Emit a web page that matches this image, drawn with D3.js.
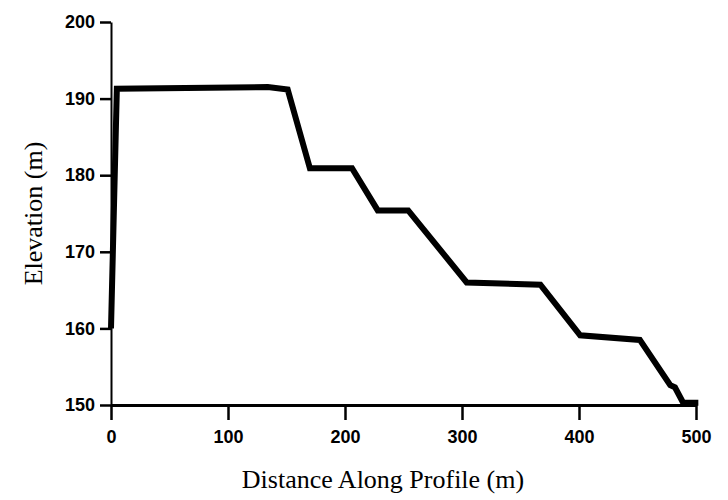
<!DOCTYPE html>
<html>
<head>
<meta charset="utf-8">
<script src="https://cdn.jsdelivr.net/npm/d3@7"></script>
<style>
  body { margin: 0; background: #fff; }
  .tick text { font-family: "Liberation Sans", sans-serif; font-size: 18px; font-weight: bold; fill: #000; }
  .title { font-family: "Liberation Serif", serif; font-size: 26px; fill: #000; }
</style>
</head>
<body>
<script>
// profile: distance (m) and elevation (m)
const distance = [0, 5, 134, 151, 170, 206, 228, 254, 304, 367, 401, 452, 478, 482, 489, 502]
const elevation = [160, 191.3, 191.5, 191.2, 180.9, 180.9, 175.4, 175.4, 166.0, 165.7, 159.1, 158.5, 152.6, 152.3, 150.3, 150.3]
const xTicks = [0, 100, 200, 300, 400, 500]
const yTicks = [150, 160, 170, 180, 190, 200]

const data = distance.map((d, i) => ({x: d, y: elevation[i]}))

const width = 728
const height = 500
const margin = {top: 22, bottom: 95, left: 111, right: 32}

const svg = d3.select('body').append('svg')
  .attr('width', width)
  .attr('height', height)

const xScale = d3.scaleLinear()
  .domain([0, 500])
  .range([margin.left, width - margin.right])

const yScale = d3.scaleLinear()
  .domain([150, 200])
  .range([height - margin.bottom, margin.top])

const xAxis = d3.axisBottom(xScale)
  .tickValues(xTicks)
  .tickFormat(d3.format('d'))
  .tickSize(15)
  .tickSizeOuter(0)
  .tickPadding(10)

const yAxis = d3.axisLeft(yScale)
  .tickValues(yTicks)
  .tickFormat(d3.format('d'))
  .tickSize(11)
  .tickSizeOuter(0)
  .tickPadding(5)

const xAxisGroup = svg.append('g')
  .attr('transform', `translate(0,${height - margin.bottom})`)
  .call(xAxis)
xAxisGroup.select('.domain').attr('stroke-width', 3)
xAxisGroup.selectAll('.tick line').attr('stroke-width', 2.5)

const yAxisGroup = svg.append('g')
  .attr('transform', `translate(${margin.left},0)`)
  .call(yAxis)
yAxisGroup.select('.domain').attr('stroke-width', 2)
yAxisGroup.selectAll('.tick line').attr('stroke-width', 2.5)

const line = d3.line()
  .x(d => xScale(d.x))
  .y(d => yScale(d.y))

svg.append('path')
  .datum(data)
  .attr('d', line)
  .attr('fill', 'none')
  .attr('stroke', '#000')
  .attr('stroke-width', 6)
  .attr('stroke-linejoin', 'miter')

svg.append('text')
  .attr('class', 'title')
  .attr('x', 383)
  .attr('y', 488)
  .attr('text-anchor', 'middle')
  .attr('fill', '#000')
  .text('Distance Along Profile (m)')

svg.append('text')
  .attr('class', 'title')
  .attr('transform', `translate(42,${(margin.top + height - margin.bottom) / 2}) rotate(-90)`)
  .attr('text-anchor', 'middle')
  .attr('fill', '#000')
  .text('Elevation (m)')
</script>
</body>
</html>
